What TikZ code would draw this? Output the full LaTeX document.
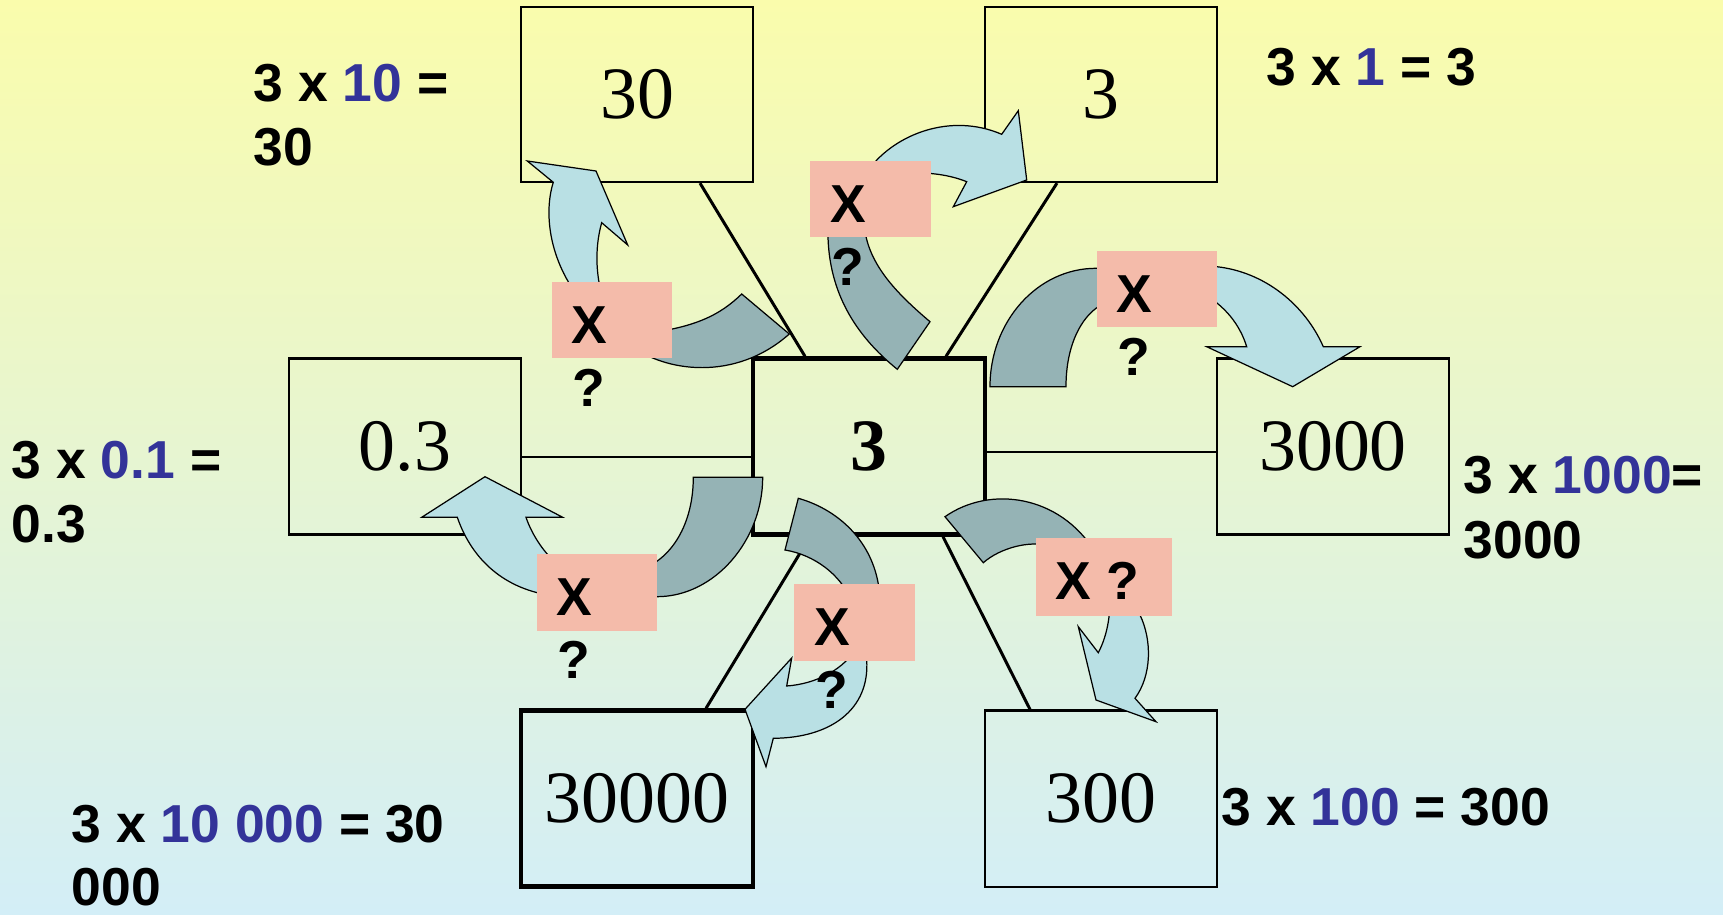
\documentclass[tikz,border=0pt]{standalone}
\usepackage{fontspec}
\setmainfont{Liberation Serif}
\newfontfamily\labfont{Liberation Sans}
\usetikzlibrary{calc}
\definecolor{bgtop}{HTML}{FAFCAC}
\definecolor{bgbot}{HTML}{D3EEF7}
\definecolor{pinkfill}{HTML}{F4BBAA}
\definecolor{lightarr}{HTML}{B9E0E4}
\definecolor{darkarr}{HTML}{95B3B5}
\definecolor{numblue}{HTML}{333399}
\tikzset{
  numbox/.style={draw=black, line width=0.6pt, inner sep=0pt, minimum width=2.32cm, minimum height=1.76cm, font=\fontsize{21}{25}\selectfont},
  thickbox/.style={numbox, line width=1.2pt},
  link/.style={line width=0.85pt},
  lightarrow/.style={fill=lightarr, draw=black, line width=0.35pt},
  darkarrow/.style={fill=darkarr, draw=black, line width=0.35pt},
  pinkbox/.style={fill=pinkfill, inner sep=0pt, minimum width=1.207cm, minimum height=0.767cm, anchor=north west},
  lab/.style={inner sep=0pt, anchor=base west, font=\labfont\bfseries\fontsize{15.2}{18.2}\selectfont},
}
\newcommand{\bl}[1]{\textcolor{numblue}{#1}}
\begin{document}
\begin{tikzpicture}[x=0.01cm, y=-0.01cm]
\useasboundingbox (0,0) rectangle (1723,915);
\shade[top color=bgtop, bottom color=bgbot] (0,0) rectangle (1723,915);

% boxes
\node[numbox, minimum height=1.75cm] (b30) at (637,94.5) {30};
\node[numbox, minimum height=1.75cm] (btop) at (1101,94.5) {3};
\node[numbox] (b03) at (405,446.5) {0.3};
\node[thickbox] (bc) at (869,446.5) {\bfseries 3};
\node[numbox] (b3k) at (1333,446.5) {3000};
\node[thickbox] (b30k) at (637,798.5) {30000};
\node[numbox] (b300) at (1101,798.5) {300};

% connectors
\draw[link] ($(b30.south)+(63,0)$) -- ($(bc.north)+(-64,0)$);
\draw[link] ($(btop.south)+(-44,0)$) -- ($(bc.north)+(77,0)$);
\draw[link] ($(b03.east)+(0,10.5)$) -- ($(bc.west)+(0,10.5)$);
\draw[link] ($(bc.east)+(0,5.5)$) -- ($(b3k.west)+(0,5.5)$);
\draw[link] ($(bc.south)+(74,0)$) -- ($(b300.north)+(-71,0)$);
\draw[link] ($(bc.south)+(-59,0)$) -- ($(b30k.north)+(69,0)$);

% arrow A (to 30)
\filldraw[darkarrow] (630,345) .. controls (665,372) and (735,382) .. (789.3,334) -- (741.7,294) .. controls (720,315) and (695,328) .. (640,334) -- cycle;
\filldraw[lightarrow] (601.7,222.7) -- (627.7,245) -- (596,171) -- (527.3,161) -- (553.3,182.3) .. controls (543,215) and (550,265) .. (585,305) -- (605,305) .. controls (596,280) and (594,250) .. (601.7,222.7) -- cycle;

% arrow B (to 3)
\filldraw[darkarrow] (828,225) .. controls (826,290) and (855,335) .. (897.3,369.3) -- (930,321.7) .. controls (895,292) and (866,262) .. (864,222) -- cycle;
\filldraw[lightarrow] (870,168) .. controls (895,135) and (950,112) .. (1001.7,134.3) -- (1018.3,110.7) -- (1026.7,180) -- (953.3,206.7) -- (966.7,181.7) .. controls (950,175) and (930,172) .. (905,173) -- cycle;

% arrow C (to 3000)
\filldraw[darkarrow] (1110,268.3) -- (1096,268.3) .. controls (1037.5,268.3) and (990,321.3) .. (990,386.7) -- (1066,386.7) .. controls (1066,350) and (1078,322) .. (1096,308.3) -- (1110,300) -- cycle;
\filldraw[lightarrow] (1200,266) -- (1216.7,266.7) .. controls (1265,272) and (1305,305) .. (1323.3,346.7) -- (1360,346.7) -- (1292.7,386.7) -- (1206.7,346.7) -- (1246.7,346.7) .. controls (1240,325) and (1225,305) .. (1200,292) -- cycle;

% arrow D (to 0.3)
\filldraw[darkarrow] (645,568) .. controls (675,555) and (693.3,520) .. (693.3,477.3) -- (762.7,477.3) .. controls (762.7,540) and (715,596.7) .. (656.7,596.7) -- (640,597) -- cycle;
\filldraw[lightarrow] (560,566) .. controls (545,555) and (532,535) .. (526,517.3) -- (562.7,517.3) -- (485,476.7) -- (421.7,517.3) -- (457.3,517.3) .. controls (472,560) and (505,590) .. (555,596) -- cycle;

% arrow E (to 30000)
\filldraw[darkarrow] (785,550) .. controls (815,555) and (840,575) .. (850,598) -- (880,600) .. controls (878,545) and (840,510) .. (798.3,498.3) -- cycle;
\filldraw[lightarrow] (862,645) -- (866.7,660) .. controls (870,710) and (830,738) .. (773.3,738.3) -- (766,766.7) -- (745,709.3) -- (791.7,658) -- (786.7,686) .. controls (815,684) and (845,670) .. (858,645) -- cycle;

% arrow F (to 300)
\filldraw[darkarrow] (945,516.7) .. controls (990,485) and (1060,495) .. (1095,552) -- (1050,546) .. controls (1030,540) and (1000,548) .. (983.3,562.7) -- cycle;
\filldraw[lightarrow] (1136,600) -- (1140,615) .. controls (1152,640) and (1152,675) .. (1135,698.3) -- (1156,721.7) -- (1096,700) -- (1078.3,626.7) -- (1098.3,652.7) .. controls (1106,638) and (1110,620) .. (1110,600) -- cycle;

% pink operator boxes
\node[pinkbox] (pA) at (551,281) {};
\node[pinkbox] (pB) at (809.3,160) {};
\node[pinkbox] (pC) at (1096,250) {};
\node[pinkbox] (pD) at (536,553.3) {};
\node[pinkbox] (pE) at (793.3,583.3) {};
\node[pinkbox, minimum width=1.367cm, minimum height=0.773cm] (pF) at (1035,537.7) {};

\node[lab] (xA) at ($(pA.north west)+(20,62)$) {X};
\node[lab] (qA) at ($(pA.north west)+(21,125)$) {?};
\node[lab] (xB) at ($(pB.north west)+(20,62)$) {X};
\node[lab] (qB) at ($(pB.north west)+(21,125)$) {?};
\node[lab] (xC) at ($(pC.north west)+(20,62)$) {X};
\node[lab] (qC) at ($(pC.north west)+(21,125)$) {?};
\node[lab] (xD) at ($(pD.north west)+(20,62)$) {X};
\node[lab] (qD) at ($(pD.north west)+(21,125)$) {?};
\node[lab] (xE) at ($(pE.north west)+(20,62)$) {X};
\node[lab] (qE) at ($(pE.north west)+(21,125)$) {?};
\node[lab] (xF) at ($(pF.north west)+(20,62)$) {X ?};

% equations
\node[lab] (l30a) at (253,101) {3 x \bl{10} =};
\node[lab] (l30b) at (253,165) {30};
\node[lab] (l3a) at (1266,85) {3 x \bl{1} = 3};
\node[lab] (l03a) at (11,478) {3 x \bl{0.1} =};
\node[lab] (l03b) at (11,542) {0.3};
\node[lab] (l3ka) at (1463,493) {3 x \bl{1000}=};
\node[lab] (l3kb) at (1463,558) {3000};
\node[lab] (l30ka) at (71,842) {3 x \bl{10 000} = 30};
\node[lab] (l30kb) at (71,905) {000};
\node[lab] (l300a) at (1221,825) {3 x \bl{100} = 300};
\end{tikzpicture}
\end{document}
